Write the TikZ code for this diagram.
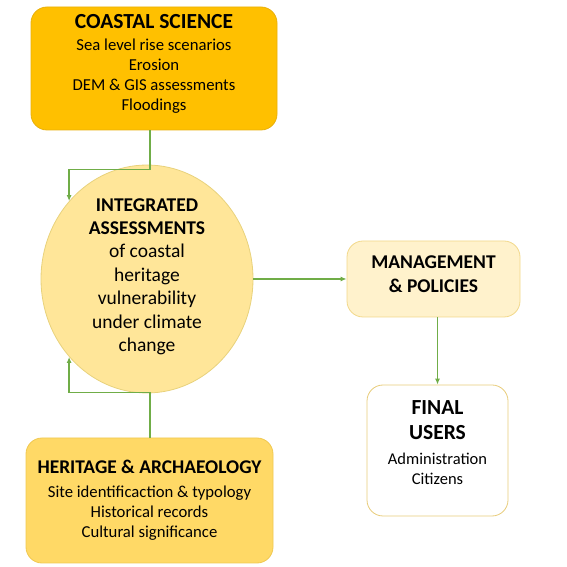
\documentclass[tikz,border=0pt]{standalone}
\usepackage{fontspec}
\setmainfont{Carlito}
\usetikzlibrary{arrows.meta,shapes.geometric}

\definecolor{coastfill}{HTML}{FFC000}
\definecolor{coastline}{HTML}{E9B00A}
\definecolor{herifill}{HTML}{FFD966}
\definecolor{heriline}{HTML}{F0C850}
\definecolor{circfill}{HTML}{FFE699}
\definecolor{circline}{HTML}{E8D27C}
\definecolor{mgmtfill}{HTML}{FFF2CC}
\definecolor{mgmtline}{HTML}{F2D88A}
\definecolor{userline}{HTML}{E8CC7A}
\definecolor{flowgreen}{HTML}{70AD47}

\begin{document}
\begin{tikzpicture}[
    x = 1pt,
    y = 1pt,
    >={Latex[length=6pt,width=5pt]},
    box/.style = {
      draw,
      rectangle,
      rounded corners = 16pt,
      line width = 0.8pt,
      align = center,
      inner sep = 0pt
    },
    flow/.style = {
      ->,
      draw = flowgreen,
      line width = 1.4pt
    }
  ]
  \useasboundingbox (0,0) rectangle (567,567);

  \node[box, fill=coastfill, draw=coastline, minimum width=246pt, minimum height=123pt,
        font=\fontsize{16.7}{20}\selectfont] (coastal) at (154,498.5)
    {{\fontsize{21.5}{25}\selectfont\bfseries COASTAL SCIENCE}\\[2.5pt]
     Sea level rise scenarios\\ Erosion\\ DEM \& GIS assessments\\ Floodings\\[-8pt]};

  \node[draw=circline, fill=circfill, ellipse, line width=0.8pt, align=center, inner sep=0pt,
        minimum width=212pt, minimum height=198pt,
        font=\fontsize{19.5}{23.4}\selectfont] (ia) at (147,288)
    {\textbf{INTEGRATED}\\ \textbf{ASSESSMENTS}\\ of coastal\\ heritage\\ vulnerability\\
     under climate\\ change\\[-15.4pt]};

  \node[box, fill=mgmtfill, draw=mgmtline, minimum width=173pt, minimum height=76pt,
        font=\fontsize{19.5}{24}\selectfont\bfseries] (mgmt) at (433.5,288)
    {MANAGEMENT\\ \& POLICIES\\[-14pt]};

  \node[box, fill=white, draw=userline, minimum width=141pt, minimum height=131pt,
        font=\fontsize{16.5}{20}\selectfont] (users) at (437.5,116.5)
    {{\fontsize{21.5}{25}\selectfont\bfseries FINAL}\\[5pt]
     {\fontsize{21.5}{25}\selectfont\bfseries USERS}\\[5pt]
     Administration\\ Citizens\\[-4pt]};

  \node[box, fill=herifill, draw=heriline, minimum width=247pt, minimum height=125pt,
        font=\fontsize{16.7}{20}\selectfont] (heritage) at (149.5,66.5)
    {{\fontsize{19.4}{23}\selectfont\bfseries HERITAGE \& ARCHAEOLOGY}\\[4pt]
     Site identificaction \& typology\\ Historical records\\ Cultural significance};

  \draw[flow] ([xshift=-4pt]coastal.south) -- ++(0,-39) -| (ia.135);
  \draw[flow] ([xshift=0.5pt]heritage.north) -- ++(0,45) -| (ia.225);
  \draw[flow] (ia.east) -- (mgmt.west);
  \draw[flow] (mgmt.south -| users.north) -- (users.north);
\end{tikzpicture}
\end{document}
